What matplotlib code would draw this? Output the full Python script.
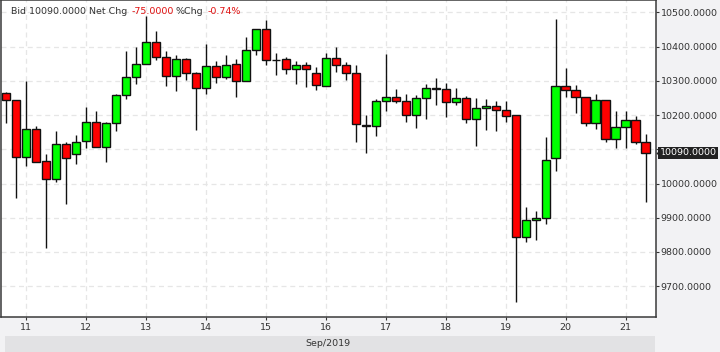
import pandas as pd
import matplotlib
matplotlib.use("Agg")
from matplotlib import pyplot as plt
import matplotlib.dates as mdates
from matplotlib.patches import Rectangle
from matplotlib.ticker import FuncFormatter, MultipleLocator

# 4-hour candles, first one at Sep 10 16:00
start = "2019-09-10 16:00"
opens = [10264, 10244, 10077, 10158, 10065, 10012, 10115, 10085, 10123, 10179,
         10106, 10176, 10258, 10310, 10348, 10412, 10369, 10315, 10363, 10323,
         10278, 10342, 10310, 10348, 10300, 10389, 10450, 10360, 10363, 10334,
         10345, 10322, 10286, 10366, 10345, 10322, 10172, 10167, 10240, 10252,
         10240, 10200, 10249, 10278, 10275, 10237, 10249, 10188, 10220, 10226,
         10214, 10199, 9843, 9893, 9898, 10074, 10284, 10272, 10252, 10176,
         10243, 10129, 10164, 10185, 10120]
highs = [10266, 10245, 10300, 10167, 10085, 10154, 10120, 10142, 10224, 10212,
         10179, 10261, 10387, 10399, 10490, 10446, 10387, 10376, 10367, 10326,
         10408, 10358, 10375, 10364, 10428, 10451, 10478, 10381, 10369, 10358,
         10355, 10339, 10381, 10399, 10355, 10346, 10200, 10246, 10378, 10276,
         10261, 10259, 10291, 10308, 10294, 10279, 10255, 10249, 10247, 10241,
         10241, 10200, 9932, 9920, 10136, 10481, 10338, 10288, 10253, 10262,
         10244, 10212, 10212, 10196, 10145]
lows = [10178, 9959, 10052, 10063, 9813, 10003, 9941, 10058, 10105, 10106,
        10064, 10152, 10248, 10292, 10348, 10361, 10286, 10271, 10301, 10155,
        10260, 10293, 10304, 10254, 10300, 10374, 10345, 10318, 10321, 10292,
        10283, 10274, 10286, 10327, 10301, 10120, 10090, 10140, 10213, 10236,
        10181, 10163, 10187, 10230, 10195, 10228, 10178, 10111, 10155, 10152,
        10181, 9655, 9828, 9836, 9881, 10038, 10254, 10207, 10169, 10160,
        10120, 10105, 10105, 10114, 9945]
closes = [10244, 10077, 10158, 10064, 10012, 10115, 10074, 10122, 10179, 10106,
          10176, 10258, 10310, 10348, 10412, 10369, 10315, 10363, 10322, 10278,
          10342, 10310, 10345, 10300, 10389, 10450, 10360, 10361, 10334, 10345,
          10334, 10287, 10366, 10345, 10322, 10173, 10167, 10240, 10252, 10240,
          10200, 10249, 10278, 10276, 10237, 10249, 10188, 10220, 10226, 10214,
          10198, 9843, 9893, 9898, 10068, 10284, 10272, 10252, 10176, 10243,
          10129, 10164, 10185, 10120, 10090]

bid = 10090.0
net_chg = -75.0
pct_chg = -0.74

times = pd.date_range(start, periods=len(opens), freq="4h")
x = mdates.date2num(times.to_pydatetime())
step = x[1] - x[0]

W, H = 720, 352
fig = plt.figure(figsize=(W / 100, H / 100), dpi=100, facecolor="#f2f2f4")
ax = fig.add_axes([0.0008, 1 - 316.7 / H, 656 / W - 0.0008, 316.7 / H])
ax.set_facecolor("white")

# bottom band with the month label
fig.patches.append(Rectangle((5 / W, 0), 650 / W, 16 / H, transform=fig.transFigure,
                             facecolor="#e2e2e4", edgecolor="none", zorder=0))
fig.text(328 / W, 1 - 344 / H, "Sep/2019", ha="center", va="center",
         fontsize=6.8, color="#333333")

# candles
colors = ["#00ff00" if c >= o else "#ff0000" for o, c in zip(opens, closes)]
ax.vlines(x, lows, highs, color="#111111", linewidth=1.0, zorder=2)
heights = [max(abs(c - o), 0.8) for o, c in zip(opens, closes)]
bottoms = [min(o, c) for o, c in zip(opens, closes)]
ax.bar(x, heights, bottom=bottoms, width=0.82 * step, color=colors,
       edgecolor="#111111", linewidth=1.0, zorder=3)

ax.set_xlim(x[0] - 0.55 * step, x[0] + 65.05 * step)
ax.set_ylim(9611, 10536)

ax.xaxis.set_major_locator(mdates.DayLocator())
ax.xaxis.set_major_formatter(mdates.DateFormatter("%-d"))
ax.yaxis.set_major_locator(MultipleLocator(100))
# the price tag hides the label it sits on
ax.yaxis.set_major_formatter(FuncFormatter(
    lambda v, pos: "" if abs(v - bid) < 30 else f"{v:.4f}"))
ax.yaxis.tick_right()
ax.tick_params(axis="y", length=2.5, width=0.8, pad=0.8, labelsize=6.8,
               colors="#333333")
ax.tick_params(axis="x", length=1.8, width=0.8, pad=3, labelsize=6.8,
               colors="#333333")

ax.set_axisbelow(True)
ax.grid(True, color="#e6e6e6", linestyle=(0, (4, 3)), linewidth=0.9)
for s in ax.spines.values():
    s.set_color("#3a3a3a")
    s.set_linewidth(1.1)

# last price tag on the right axis
ax.annotate(f"{bid:.4f}", xy=(1, bid), xycoords=("axes fraction", "data"),
            xytext=(2.6, 0), textcoords="offset points", ha="left", va="center",
            fontsize=6.8, color="white", annotation_clip=False, zorder=5,
            bbox=dict(boxstyle="square,pad=0.18", facecolor="#222222",
                      edgecolor="none"))
ax.plot([1.004], [bid], marker="<", markersize=3.5, color="#222222",
        transform=ax.get_yaxis_transform(), clip_on=False, zorder=5)

# header
y_head = 1 - 14.2 / H
fig.text(11 / W, y_head, f"Bid {bid:.4f} Net Chg", fontsize=6.8, color="#333333")
fig.text(131.7 / W, y_head, f"{net_chg:.4f}", fontsize=6.8, color="#e01010")
fig.text(176 / W, y_head, "%Chg", fontsize=6.8, color="#333333")
fig.text(207.7 / W, y_head, f"{pct_chg:.2f}%", fontsize=6.8, color="#e01010")

fig.savefig("out.png", dpi=100, facecolor=fig.get_facecolor())
